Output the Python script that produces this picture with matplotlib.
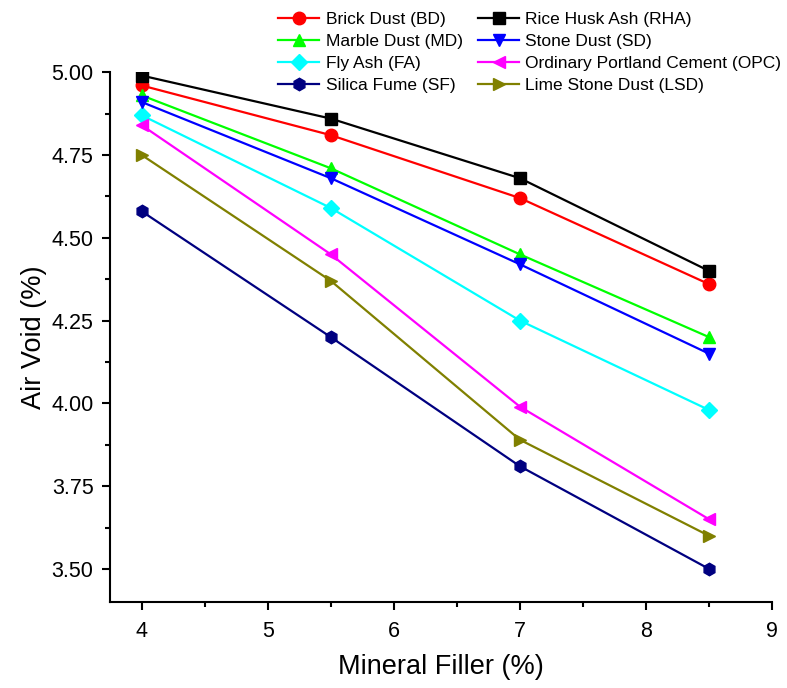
import matplotlib
matplotlib.use("Agg")
import matplotlib.pyplot as plt
from matplotlib.ticker import MultipleLocator

plt.rcParams['font.family'] = ['Liberation Sans', 'DejaVu Sans']

filler = [4, 5.5, 7, 8.5]
bd = [4.96, 4.81, 4.62, 4.36]
rha = [4.99, 4.86, 4.68, 4.40]
md = [4.93, 4.71, 4.45, 4.20]
sd = [4.91, 4.68, 4.42, 4.15]
fa = [4.87, 4.59, 4.25, 3.98]
opc = [4.84, 4.45, 3.99, 3.65]
sf = [4.58, 4.20, 3.81, 3.50]
lsd = [4.75, 4.37, 3.89, 3.60]

series = [
    ("Brick Dust (BD)", bd, "#ff0000", "o"),
    ("Marble Dust (MD)", md, "#00ff00", "^"),
    ("Fly Ash (FA)", fa, "#00ffff", "D"),
    ("Silica Fume (SF)", sf, "#000080", "h"),
    ("Rice Husk Ash (RHA)", rha, "#000000", "s"),
    ("Stone Dust (SD)", sd, "#0000ff", "v"),
    ("Ordinary Portland Cement (OPC)", opc, "#ff00ff", "<"),
    ("Lime Stone Dust (LSD)", lsd, "#808000", ">"),
]

fig = plt.figure(figsize=(7.87, 6.88), dpi=100)
ax = fig.add_axes([0.140, 0.125, 0.841, 0.770])

for label, vals, color, marker in series:
    ms = 8 if marker in ("D", "s") else 9
    ax.plot(filler, vals, color=color, marker=marker, markersize=ms, lw=1.6,
            label=label)

ax.set_xlim(3.75, 9)
ax.set_ylim(3.4, 5.0)
ax.xaxis.set_major_locator(MultipleLocator(1))
ax.xaxis.set_minor_locator(MultipleLocator(0.5))
ax.yaxis.set_major_locator(MultipleLocator(0.25))
ax.yaxis.set_minor_locator(MultipleLocator(0.125))
ax.yaxis.set_major_formatter(matplotlib.ticker.FormatStrFormatter('%.2f'))
for s in ("top", "right"):
    ax.spines[s].set_visible(False)
for s in ("left", "bottom"):
    ax.spines[s].set_linewidth(1.5)
ax.tick_params(which='major', direction='out', length=6, width=1.5, labelsize=15.5)
ax.tick_params(which='minor', direction='out', length=3.5, width=1.5)
ax.tick_params(axis='x', pad=8)
ax.tick_params(axis='y', pad=6)

ax.set_xlabel("Mineral Filler (%)", fontsize=19.5, labelpad=8)
ax.set_ylabel("Air Void (%)", fontsize=19.5, labelpad=3)

fig.legend(loc='upper left', bbox_to_anchor=(0.345, 0.993), ncol=2,
           frameon=False, fontsize=12.5, handlelength=2.36, handletextpad=0.35,
           columnspacing=0.9, labelspacing=0.4, borderaxespad=0)

fig.savefig("out.png", dpi=100, facecolor='white')
